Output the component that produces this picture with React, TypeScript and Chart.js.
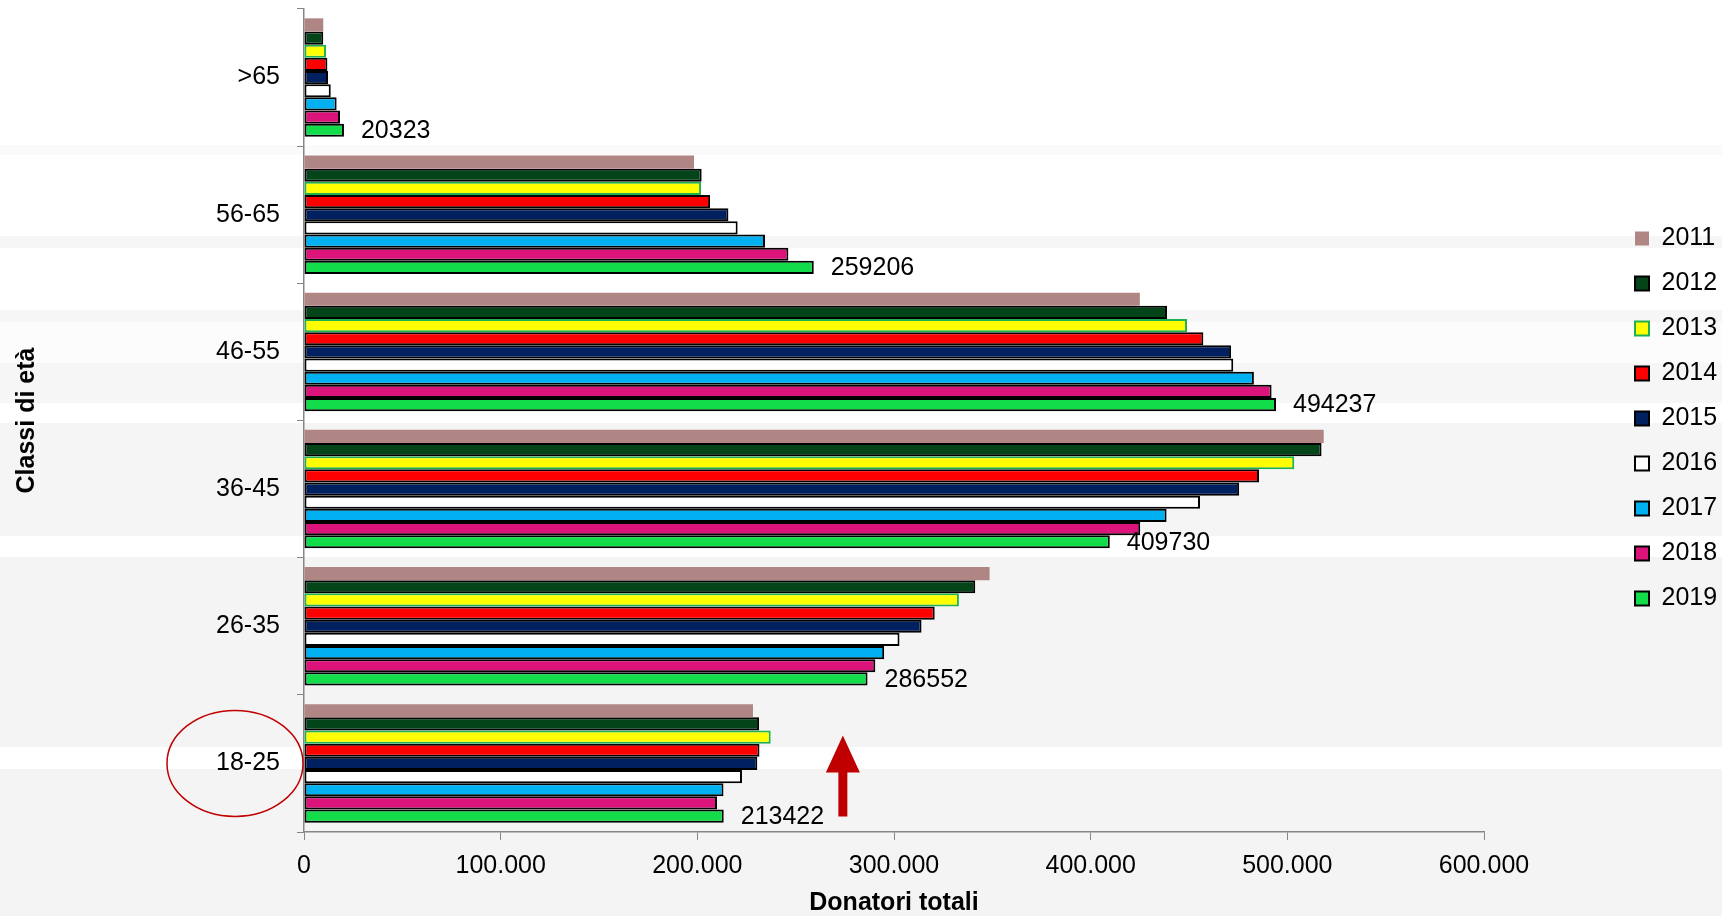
import React, { useEffect, useRef } from "react";
import { Chart, registerables } from "chart.js";

Chart.register(...registerables);

const CATEGORIES = [">65", "56-65", "46-55", "36-45", "26-35", "18-25"];
const YEARS = ["2011", "2012", "2013", "2014", "2015", "2016", "2017", "2018", "2019"];

const V2011 = [9800, 198300, 425000, 518500, 348600, 228300];
const V2012 = [9800, 202200, 438800, 517400, 341300, 231400];
const V2013 = [11200, 201900, 449000, 503500, 333000, 237300];
const V2014 = [11900, 206500, 457300, 485600, 320700, 231600];
const V2015 = [12200, 215800, 471400, 475500, 314000, 230500];
const V2016 = [13600, 220500, 472500, 455600, 302800, 222700];
const V2017 = [16600, 234400, 483000, 438600, 295000, 213300];
const V2018 = [18300, 246300, 492000, 425200, 290500, 210000];
const V2019 = [20323, 259206, 494237, 409730, 286552, 213422];

const SERIES = [V2011, V2012, V2013, V2014, V2015, V2016, V2017, V2018, V2019];
const FILLS = ["#b08684", "#034419", "#ffff00", "#ff0000", "#002060", "#ffffff", "#00b0f0", "#dc137a", "#12dc4a"];
const BORDERS = ["#b08684", "#000000", "#1fb050", "#000000", "#000000", "#000000", "#000000", "#000000", "#000000"];
const BORDER_W = [0, 2, 2, 2, 2, 2, 2, 2, 2];

const X_MIN = 0;
const X_MAX = 600000;
const X_STEP = 100000;

const FONT = "'Liberation Sans', Arial, Helvetica, sans-serif";

function fmt(v: number): string {
  return String(Math.round(v)).replace(/\B(?=(\d{3})+(?!\d))/g, ".");
}

const backgroundPlugin = {
  id: "bgBands",
  beforeDraw(chart: any) {
    const ctx = chart.ctx;
    const w = chart.width;
    ctx.save();
    ctx.fillStyle = "#ffffff";
    ctx.fillRect(0, 0, w, chart.height);
    const bands: [number, number, string][] = [
      [145, 155, "#fafafa"],
      [236, 248, "#f6f6f6"],
      [310, 322, "#f6f6f6"],
      [322, 363, "#fcfcfc"],
      [363, 403, "#f6f6f6"],
      [423, 536, "#f5f5f5"],
      [557, 747, "#f4f4f4"],
      [769, 916, "#f4f4f4"],
    ];
    bands.forEach(([a, b, c]) => {
      ctx.fillStyle = c;
      ctx.fillRect(0, a, w, b - a);
    });
    ctx.restore();
  },
};

// Shift the legend away from the plot so it sits at the right edge (as in the reference)
const legendShiftPlugin = {
  id: "legendShift",
  afterLayout(chart: any) {
    const lg = chart.legend;
    if (!lg) return;
    const shift = 131;
    lg.left += shift;
    lg.right += shift;
    lg.top -= 2;
    lg.bottom -= 2;
  },
};

const valueLabelPlugin = {
  id: "valueLabels",
  afterDatasetsDraw(chart: any) {
    const ctx = chart.ctx;
    const idx = chart.data.datasets.length - 1;
    const meta = chart.getDatasetMeta(idx);
    const data = chart.data.datasets[idx].data;
    ctx.save();
    ctx.font = `25px ${FONT}`;
    ctx.fillStyle = "#000000";
    ctx.textAlign = "left";
    ctx.textBaseline = "middle";
    meta.data.forEach((bar: any, i: number) => {
      ctx.fillText(String(data[i]), bar.x + 17, bar.y + 1);
    });
    ctx.restore();
  },
};

const annotationPlugin = {
  id: "annotations",
  afterDraw(chart: any) {
    const ctx = chart.ctx;
    const ys = chart.scales.y;
    const xs = chart.scales.x;
    const cy = ys.getPixelForValue(5);
    ctx.save();
    ctx.strokeStyle = "#c00000";
    ctx.lineWidth = 1.5;
    ctx.beginPath();
    ctx.ellipse(ys.right - 69, cy, 68, 53, 0, 0, Math.PI * 2);
    ctx.stroke();
    const ax = xs.getPixelForValue(274000);
    ctx.fillStyle = "#c00000";
    ctx.beginPath();
    ctx.moveTo(ax, cy - 28);
    ctx.lineTo(ax + 17, cy + 9);
    ctx.lineTo(ax + 4.5, cy + 9);
    ctx.lineTo(ax + 4.5, cy + 53);
    ctx.lineTo(ax - 4.5, cy + 53);
    ctx.lineTo(ax - 4.5, cy + 9);
    ctx.lineTo(ax - 17, cy + 9);
    ctx.closePath();
    ctx.fill();
    ctx.restore();
  },
};

export default function App() {
  const ref = useRef<HTMLCanvasElement | null>(null);

  useEffect(() => {
    if (!ref.current) return;
    const chart = new Chart(ref.current, {
      type: "bar",
      data: {
        labels: CATEGORIES,
        datasets: YEARS.map((y, i) => ({
          label: y,
          data: SERIES[i],
          backgroundColor: FILLS[i],
          borderColor: BORDERS[i],
          borderWidth: BORDER_W[i],
          borderSkipped: false,
          categoryPercentage: 0.864,
          barPercentage: 1.0,
        })),
      },
      options: {
        indexAxis: "y",
        responsive: false,
        animation: false,
        layout: { padding: { left: 0, top: 9, right: 133, bottom: 0 } },
        scales: {
          x: {
            type: "linear",
            position: "bottom",
            min: X_MIN,
            max: X_MAX,
            ticks: {
              stepSize: X_STEP,
              color: "#000000",
              font: { size: 25, family: FONT },
              padding: 11,
              callback: (v: any) => fmt(Number(v)),
            },
            grid: { drawOnChartArea: false, drawTicks: true, tickLength: 8, color: "#868686", lineWidth: 1 },
            border: { display: true, color: "#868686", width: 1.5 },
            title: {
              display: true,
              text: "Donatori totali",
              color: "#000000",
              font: { size: 25, weight: "bold", family: FONT, lineHeight: 1 },
              padding: { top: 11, bottom: 0 },
            },
            afterFit: (s: any) => {
              s.height = 84;
            },
          },
          y: {
            type: "category",
            ticks: { color: "#000000", font: { size: 25, family: FONT }, padding: 17 },
            grid: { drawOnChartArea: false, drawTicks: true, tickLength: 7, color: "#868686", offset: true },
            border: { display: true, color: "#868686", width: 1.5 },
            title: {
              display: true,
              text: "Classi di età",
              color: "#000000",
              font: { size: 25, weight: "bold", family: FONT },
              padding: { top: 12, bottom: 0 },
            },
            afterFit: (s: any) => {
              s.width = 304;
              s.paddingTop = 0;
              s.paddingBottom = 0;
            },
          },
        },
        plugins: {
          legend: {
            display: true,
            position: "right",
            align: "center",
            fullSize: false,
            maxWidth: 105,
            labels: {
              boxWidth: 14,
              boxHeight: 14,
              padding: 20,
              color: "#000000",
              font: { size: 25, family: FONT },
            },
          },
          tooltip: { enabled: false },
        },
      } as any,
      plugins: [backgroundPlugin, legendShiftPlugin, valueLabelPlugin, annotationPlugin],
    });
    return () => chart.destroy();
  }, []);

  return (
    <div style={{ position: "fixed", left: 0, top: 0, width: 1722, height: 916, overflow: "hidden", background: "#ffffff" }}>
      <canvas ref={ref} width={1722} height={916} style={{ display: "block", width: 1722, height: 916 }} />
    </div>
  );
}
